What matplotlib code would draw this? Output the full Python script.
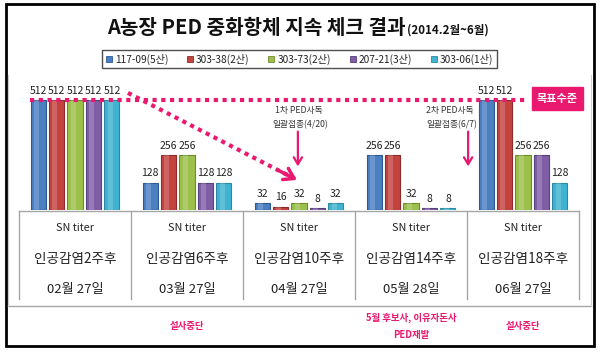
import matplotlib
matplotlib.use("Agg")
import matplotlib.pyplot as plt
from matplotlib.transforms import blended_transform_factory
from matplotlib.patches import Rectangle, Patch
from matplotlib.lines import Line2D

plt.rcParams['font.family'] = ['Noto Sans CJK KR', 'DejaVu Sans']

# ---- data ----
series_names = ['117-09(5산)', '303-38(2산)', '303-73(2산)', '207-21(3산)', '303-06(1산)']
series_colors = ['#4a7fc1', '#c4433f', '#9cc04a', '#7f5ea6', '#3fb3cf']
series_edges = ['#2c5a93', '#8e2a27', '#6f8c2c', '#58407a', '#2a8aa3']
weeks = ['인공감염2주후', '인공감염6주후', '인공감염10주후', '인공감염14주후', '인공감염18주후']
dates = ['02월 27일', '03월 27일', '04월 27일', '05월 28일', '06월 27일']
values = [
    [512, 128, 32, 256, 512],   # 117-09
    [512, 256, 16, 256, 512],   # 303-38
    [512, 256, 32, 32, 256],    # 303-73
    [512, 128, 8, 8, 256],      # 207-21
    [512, 128, 32, 8, 128],     # 303-06
]
target_level = 512
footnotes = ['', '설사중단', '', '5월 후보사, 이유자돈사\nPED재발', '설사중단']

W, H = 600, 352
fig = plt.figure(figsize=(W / 100, H / 100), dpi=100)

def fx(px):
    return px / W

def fy(py):
    return 1 - py / H

PINK = '#e8196f'

# main axes: x from px 19 to 579, baseline at px 210, top at px 78
ax = fig.add_axes([fx(19), fy(210), fx(579) - fx(19), fy(78) - fy(210)])
ax.set_xlim(-0.5, 4.5)
ax.set_ylim(0, 512 * 132 / 110)
ax.axis('off')

n_groups = len(dates)
pitch = 0.165
bw = 0.134
for k, (name, vals) in enumerate(zip(series_names, values)):
    xs = [g + (k - 2) * pitch for g in range(n_groups)]
    ax.bar(xs, vals, width=bw, color=series_colors[k], edgecolor=series_edges[k],
           linewidth=0.8, label=name, zorder=3)
    # soft highlight to mimic the 3D gradient
    ax.bar([x - bw * 0.12 for x in xs], vals, width=bw * 0.35, color='white',
           alpha=0.18, linewidth=0, zorder=4)
    for x, v in zip(xs, vals):
        ax.annotate(str(v), (x, v), xytext=(0, 3), textcoords='offset points',
                    ha='center', va='bottom', fontsize=7.5, color='#222222', zorder=6)

# target dotted line
ax.plot([-0.40, 4.04], [target_level, target_level], color=PINK, lw=3,
        linestyle=(0, (1, 1.1)), zorder=5, solid_capstyle='butt')
fig.text(fx(557), fy(98.5), '목표수준', ha='center', va='center', fontsize=8,
         fontweight='bold', color='white',
         bbox=dict(boxstyle='square,pad=0.45', fc=PINK, ec=PINK))

# diagonal dotted arrow
x0, y0 = 0.473, 545
x1, y1 = 1.982, 140
ax.plot([x0, x0 + (x1 - x0) * 0.95], [y0, y0 + (y1 - y0) * 0.95], color=PINK, lw=3,
        linestyle=(0, (1, 1.1)), zorder=5)
ax.annotate('', xy=(x1, y1), xytext=(x0 + (x1 - x0) * 0.9, y0 + (y1 - y0) * 0.9),
            arrowprops=dict(arrowstyle='->,head_length=0.7,head_width=0.45', lw=2.5,
                            color=PINK, shrinkA=0, shrinkB=0), zorder=5)

# vertical arrows + notes
for xa, xt, l1, l2 in [(1.99, 2.0, '1차 PED사독', '일괄접종(4/20)'),
                       (3.51, 3.35, '2차 PED사독', '일괄접종(6/7)')]:
    ax.annotate('', xy=(xa, 203), xytext=(xa, 365),
                arrowprops=dict(arrowstyle='->,head_length=0.5,head_width=0.3', lw=1.6,
                                color=PINK, shrinkA=0, shrinkB=0), zorder=5)
    ax.text(xt, 465, l1, ha='center', va='center', fontsize=6.3, color='#333333')
    ax.text(xt + 0.01, 396, l2, ha='center', va='center', fontsize=6.3, color='#333333')

# table below
tr = blended_transform_factory(ax.transData, fig.transFigure)
grid_c = '#a6a6a6'
ax.add_line(Line2D([-0.5, 4.5], [fy(211), fy(211)], transform=tr, color=grid_c, lw=1, clip_on=False))
for b in range(n_groups + 1):
    ax.add_line(Line2D([b - 0.5, b - 0.5], [fy(211), fy(299)], transform=tr, color=grid_c,
                       lw=1, clip_on=False))
fig.add_artist(Line2D([fx(8), fx(591)], [fy(306), fy(306)], color=grid_c, lw=1))
fig.add_artist(Line2D([fx(8), fx(8)], [fy(75), fy(306)], color='#d0d0d0', lw=0.8))
fig.add_artist(Line2D([fx(591), fx(591)], [fy(75), fy(306)], color='#d0d0d0', lw=0.8))

for g in range(n_groups):
    ax.text(g, fy(228), 'SN titer', transform=tr, ha='center', va='center',
            fontsize=7.8, color='#222222')
    ax.text(g, fy(259), weeks[g], transform=tr, ha='center', va='center',
            fontsize=9.8, color='#222222')
    ax.text(g, fy(289), dates[g], transform=tr, ha='center', va='center',
            fontsize=9.5, color='#222222')
    if footnotes[g]:
        ax.text(g, fy(326), footnotes[g], transform=tr, ha='center', va='center',
                fontsize=6.8, color=PINK, fontweight='bold', linespacing=1.9)

# title
fig.text(fx(406), fy(34), 'A농장 PED 중화항체 지속 체크 결과', ha='right', va='baseline',
         fontsize=14.5, fontweight='bold', color='#111111')
fig.text(fx(407), fy(34), '(2014.2월~6월)', ha='left', va='baseline',
         fontsize=8.3, fontweight='bold', color='#111111')

# legend
handles = [Patch(facecolor=c, edgecolor=e, linewidth=0.6) for c, e in zip(series_colors, series_edges)]
leg = fig.legend(handles, series_names, loc='center', bbox_to_anchor=(fx(299.5), fy(59)),
                 ncol=5, fontsize=7.3, frameon=True, fancybox=False, edgecolor='#222222',
                 handlelength=0.6, handleheight=0.6, handletextpad=0.3, columnspacing=1.85,
                 borderpad=0.35)
leg.get_frame().set_linewidth(1.0)
for t in leg.get_texts():
    t.set_color('#222222')

# outer frame
fig.add_artist(Rectangle((fx(6), fy(346)), fx(594) - fx(6), fy(4) - fy(346), fill=False,
                         ec='black', lw=2, transform=fig.transFigure))

fig.savefig('out.png', dpi=100)
